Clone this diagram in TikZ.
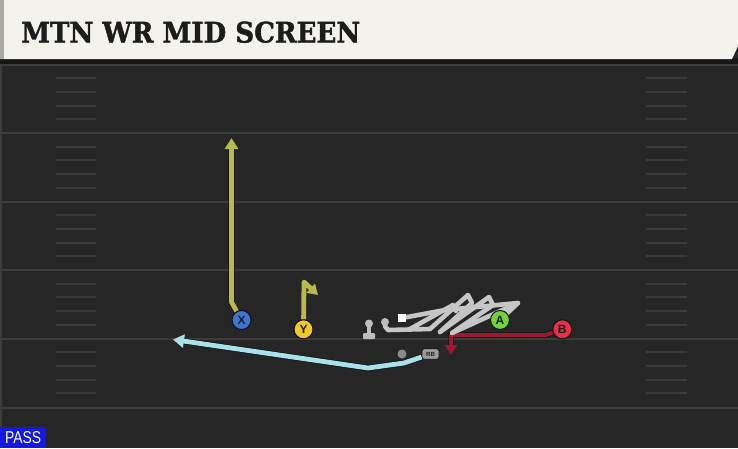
\documentclass[tikz,border=0pt]{standalone}
\usepackage{fontspec}
\usepackage{graphicx}
\setmainfont{Liberation Sans}
\newfontfamily\titlefont{DejaVu Serif}[BoldFeatures={FakeBold=1.5}]
\usetikzlibrary{arrows.meta}
\pgfdeclarelayer{fieldlayer}
\pgfdeclarelayer{routelayer}
\pgfsetlayers{fieldlayer,routelayer,main}
\definecolor{fieldbg}{HTML}{262626}
\definecolor{headerc}{HTML}{F4F2EC}
\definecolor{headeredge}{HTML}{A8A8A8}
\definecolor{stripc}{HTML}{161616}
\definecolor{fieldline}{HTML}{3C3C3C}
\definecolor{hashc}{HTML}{3A3A3A}
\definecolor{titlec}{HTML}{1C1C1C}
\definecolor{passblue}{HTML}{1418E0}
\definecolor{xblue}{HTML}{3C74D8}
\definecolor{yyellow}{HTML}{F6C71E}
\definecolor{agreen}{HTML}{74D13A}
\definecolor{bred}{HTML}{E6304A}
\definecolor{oliver}{HTML}{B8B84C}
\definecolor{cyanr}{HTML}{A7E1EC}
\definecolor{redr}{HTML}{9A1A2E}
\definecolor{grayr}{HTML}{C6C6C6}
\definecolor{olc}{HTML}{BDBDBD}
\definecolor{dotc}{HTML}{8A8A8A}
\definecolor{rbc}{HTML}{9C9C9C}
\definecolor{outl}{HTML}{111111}
\tikzset{
  player/.style={circle, draw=outl, line width=1pt, minimum size=19pt, inner sep=0pt,
    font=\fontsize{12}{12}\selectfont\bfseries, text=titlec},
  route/.style={line width=#1, line join=round, line cap=butt,
    preaction={draw=outl, line width=#1+1.4pt, shorten >=7pt, -}},
  plainroute/.style={line width=#1, line join=round, line cap=butt},
  tipA/.style={-{Triangle[length=11pt,width=13pt]}},
  fline/.style={draw=fieldline, line width=2pt},
  hline/.style={draw=hashc, line width=2pt},
  scribble/.style={draw=grayr, line width=4.6pt, line join=round, line cap=round},
}
\begin{document}
\begin{tikzpicture}[x=1pt,y=-1pt]
\useasboundingbox (0,0) rectangle (738,448);
\begin{pgfonlayer}{fieldlayer}
\fill[fieldbg] (0,0) rectangle (738,448);
\foreach \b in {64.5,133,201.5,270,338.5,407.5} {
  \draw[fline] (0,\b) -- (738,\b);
}
\foreach \b in {64.5,133,201.5,270,338.5} {
  \foreach \k in {1,...,4} {
    \draw[hline] (56,\b+13.7*\k) -- (96,\b+13.7*\k);
    \draw[hline] (646,\b+13.7*\k) -- (687,\b+13.7*\k);
  }
}
\draw[draw=fieldline, line width=1.5pt] (1,64) -- (1,448);
\fill[stripc] (0,58) rectangle (738,64);
\fill[headerc] (0,0) -- (738,0) -- (738,46) -- (732,59) -- (0,59) -- cycle;
\fill[headeredge] (0,0) rectangle (4,59);
\end{pgfonlayer}

\node[anchor=west, inner sep=0pt, text=titlec] (title) at (21,32.2)
  {\resizebox{339pt}{21pt}{\titlefont\bfseries MTN WR MID SCREEN}};
\node[fill=passblue, text=white, anchor=south west, minimum width=46pt, minimum height=20.5pt, inner sep=0pt] (pass) at (0,448)
  {\resizebox{36pt}{12pt}{PASS}};

% players and markers
\node[player, fill=xblue] (X) at (241.5,320) {X};
\node[player, fill=yyellow] (Y) at (303.5,329.3) {Y};
\node[player, fill=agreen] (A) at (500,320) {A};
\node[player, fill=bred] (B) at (562.3,329.3) {B};
\node[circle, fill=olc, minimum size=8pt, inner sep=0pt] (m) at (385,322) {};
\node[fill=white, minimum size=8pt, inner sep=0pt] (sq) at (402,318) {};
\node[circle, fill=dotc, minimum size=9pt, inner sep=0pt] (rbdot) at (402,354) {};
\node[fill=rbc, draw=outl, line width=0.6pt, rounded corners=2.5pt, minimum width=17pt, minimum height=10.5pt, inner sep=0pt,
  font=\fontsize{6}{6}\selectfont\bfseries, text=titlec] (RB) at (430.5,354) {RB};
\node[circle, fill=olc, minimum size=8pt, inner sep=0pt] (ctop) at (369,323.5) {};
\node[fill=olc, minimum width=4pt, minimum height=8pt, inner sep=0pt] (cstem) at (369,330) {};
\node[fill=olc, rounded corners=1pt, minimum width=12pt, minimum height=6pt, inner sep=0pt] (cbase) at (369,336) {};

% coordinates
\coordinate (x1) at (231.5,302);
\coordinate (x2) at (231.5,138);
\coordinate (y1) at (304,282);
\coordinate (y2) at (318,295);
\coordinate (r1) at (404,363);
\coordinate (r2) at (368,368);
\coordinate (r3) at (173,339.5);
\coordinate (b1) at (546,335);
\coordinate (b2) at (451,335);
\coordinate (b3) at (451,355);

\begin{pgfonlayer}{routelayer}
\draw[route=4.8pt, draw=oliver, tipA] (X) -- (x1) -- (x2);
\draw[plainroute=4.8pt, draw=oliver, -{Triangle[length=10pt,width=12pt]}] (Y) -- (y1) -- (y2);
\draw[route=4.8pt, draw=cyanr, tipA] (RB) -- (r1) -- (r2) -- (r3);
\draw[route=3.8pt, draw=redr, -{Triangle[length=10pt,width=12pt]}] (B) -- (b1) -- (b2) -- (b3);
\draw[scribble] (m.south) -- (388,330) -- (430,329) -- (468,295) -- (472,303) -- (440,332)
  -- (489,297) -- (493,305) -- (452,333) -- (518,303) -- (A);
\draw[scribble] (sq) -- (445,310) -- (518,303);
\draw[scribble] (410,329) -- (453,305) -- (456,311);
\end{pgfonlayer}
\end{tikzpicture}
\end{document}
